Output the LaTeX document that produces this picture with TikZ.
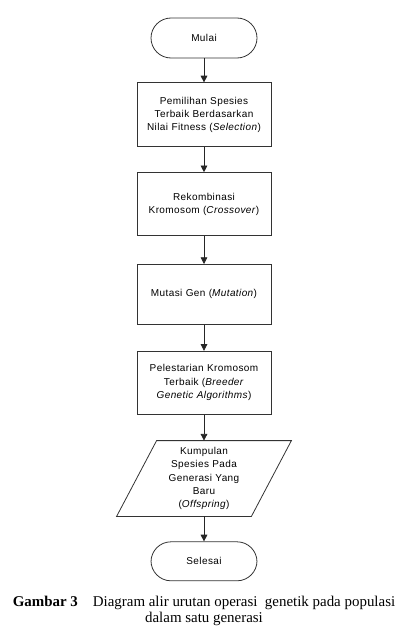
\documentclass[tikz,border=0pt]{standalone}
\usepackage{fontspec}
\setmainfont[LetterSpace=4]{Liberation Sans}
\newfontfamily\captionserif{Liberation Serif}
\usetikzlibrary{positioning,arrows.meta,calc}

\begin{document}
\begin{tikzpicture}[
    node distance=18.75pt,
    terminal/.style={rectangle, draw=black!80, line width=0.6pt, rounded corners=15pt, minimum width=79.5pt, minimum height=30pt, font=\fontsize{7.5}{10}\selectfont},
    process/.style={rectangle, draw=black!80, line width=0.6pt, text width=94pt, align=center, inner sep=3.25pt, font=\fontsize{7.5}{10}\selectfont},
    arrow/.style={draw=black!85, line width=0.6pt, -{Triangle[length=5pt,width=5pt]}}
]
    \useasboundingbox (0,0) rectangle (306.75pt,-476.25pt);

    % Nodes
    \node[terminal] (mulai) at (153pt,-28.5pt) {Mulai};
    \node[process, minimum height=48pt, below=18pt of mulai] (seleksi) {Pemilihan Spesies\\Terbaik Berdasarkan\\Nilai Fitness (\textit{Selection})};
    \node[process, minimum height=47.25pt, below=18.75pt of seleksi] (crossover) {Rekombinasi\\Kromosom (\textit{Crossover})};
    \node[process, minimum height=45pt, below=21pt of crossover] (mutasi) {Mutasi Gen (\textit{Mutation})};
    \node[process, minimum height=47.25pt, below=19.5pt of mutasi] (breeder) {Pelestarian Kromosom\\Terbaik (\textit{Breeder}\\\textit{Genetic Algorithms})};
    \node[process, draw=none, minimum height=56.25pt, inner sep=1pt, text width=98.5pt, below=19.5pt of breeder] (offspring) {Kumpulan\\Spesies Pada\\Generasi Yang\\Baru\\(\textit{Offspring})};
    \node[terminal, minimum height=29.25pt, below=18.75pt of offspring] (selesai) {Selesai};

    % Parallelogram outline
    \draw[draw=black!80, line width=0.6pt] ($(offspring.north west)+(15pt,0)$) -- ($(offspring.north east)+(15pt,0)$)
        -- ($(offspring.south east)+(-15pt,0)$) -- ($(offspring.south west)+(-15pt,0)$) -- cycle;

    % Arrows
    \draw[arrow] (mulai) -- (seleksi);
    \draw[arrow] (seleksi) -- (crossover);
    \draw[arrow] (crossover) -- (mutasi);
    \draw[arrow] (mutasi) -- (breeder);
    \draw[arrow] (breeder) -- (offspring);
    \draw[arrow] (offspring) -- (selesai);

    % Caption
    \node[font=\captionserif\fontsize{11.2}{12}\selectfont, align=center] (caption) at (153pt,-458pt)
        {\textbf{Gambar 3}\quad Diagram alir urutan operasi\ \ genetik pada populasi\\dalam satu generasi};
\end{tikzpicture}
\end{document}
